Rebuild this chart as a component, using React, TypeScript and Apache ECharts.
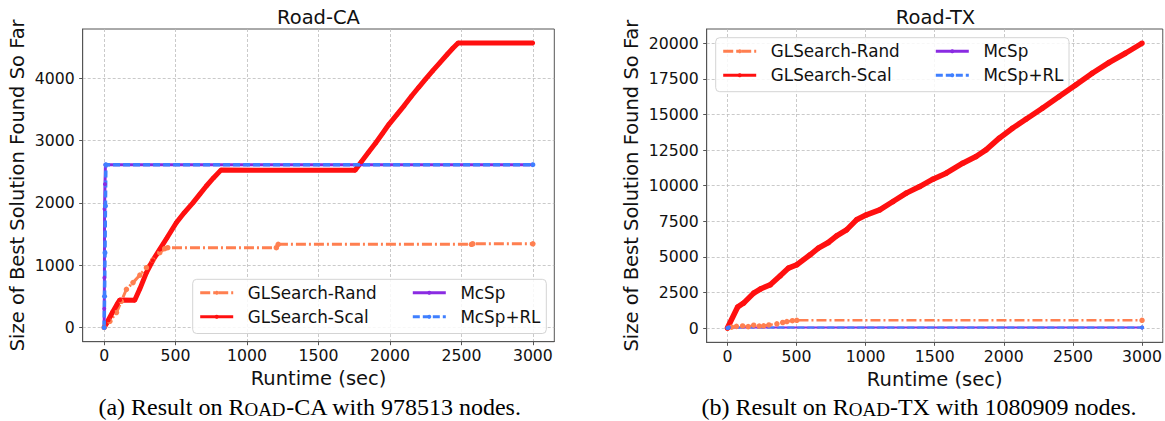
import React, { useEffect, useRef } from 'react';
import * as echarts from 'echarts';

// ---- tick labels ----
const xTicks = [0, 500, 1000, 1500, 2000, 2500, 3000];
const yTicksCA = [0, 1000, 2000, 3000, 4000];
const yTicksTX = [0, 2500, 5000, 7500, 10000, 12500, 15000, 17500, 20000];

const seriesNames = ['GLSearch-Rand', 'GLSearch-Scal', 'McSp', 'McSp+RL'];

// ---- Road-CA data: [runtime sec, size] ----
const caRand: [number, number][] = [
  [0, 0], [40, 100], [86, 240], [120, 420], [156, 613], [202, 720], [250, 840], [296, 960],
  [340, 1080], [389, 1200], [424, 1265], [445, 1280], [1205, 1280], [1218, 1335], [2570, 1335],
  [2580, 1342], [3000, 1342],
];
const caScal: [number, number][] = [
  [0, 0], [30, 120], [60, 250], [90, 370], [110, 442], [214, 437], [250, 620], [296, 880],
  [340, 1075], [389, 1253], [440, 1440], [505, 1680], [560, 1840], [621, 2000], [670, 2140],
  [714, 2266], [765, 2400], [817, 2525], [1756, 2522], [1800, 2660], [1850, 2810], [1900, 2960],
  [1950, 3120], [1993, 3260], [2050, 3420], [2100, 3560], [2150, 3710], [2200, 3850],
  [2249, 3984], [2300, 4120], [2350, 4250], [2400, 4380], [2440, 4480], [2477, 4565], [3000, 4565],
];
const caMcsp: [number, number][] = [
  [0, 0], [1, 300], [2, 800], [3, 1900], [6, 2300], [9, 2610], [3000, 2610],
];
const caMcspRl: [number, number][] = [
  [0, 0], [3, 500], [6, 1200], [9, 1950], [12, 2612], [3000, 2612],
];

// ---- Road-TX data ----
const txRand: [number, number][] = [
  [0, 0], [30, 60], [65, 120], [110, 150], [150, 100], [190, 200], [230, 140], [262, 160],
  [300, 220], [358, 300], [400, 390], [430, 460], [470, 520], [502, 545], [3000, 545],
];
const txScal: [number, number][] = [
  [0, 0], [74, 1474], [117, 1754], [190, 2456], [238, 2737], [310, 3039], [382, 3670],
  [442, 4210], [502, 4442], [598, 5144], [658, 5614], [730, 6007], [790, 6477], [862, 6898],
  [934, 7600], [1006, 7951], [1102, 8302], [1198, 8885], [1294, 9474], [1391, 9937],
  [1487, 10456], [1583, 10877], [1703, 11579], [1799, 12042], [1871, 12512], [1967, 13333],
  [2063, 14035], [2160, 14667], [2279, 15439], [2400, 16253], [2520, 17074], [2640, 17895],
  [2760, 18638], [2880, 19298], [3000, 20000],
];
const txMcsp: [number, number][] = [[0, 0], [10, 40], [3000, 40]];
const txMcspRl: [number, number][] = [[0, 0], [10, 45], [3000, 45]];

const FONT = 'DejaVu Sans';
const COLORS = { rand: '#ff7f50', scal: '#ff1010', mcsp: '#8a2be2', rl: '#3f7fff' };
const TXT = '#111111';

function makeXAxis(gridIndex: number) {
  return {
    type: 'value', gridIndex, min: -150, max: 3150,
    name: 'Runtime (sec)', nameLocation: 'middle', nameGap: 25,
    nameTextStyle: { fontFamily: FONT, fontSize: 19.5, color: TXT },
    axisLine: { show: true, onZero: false, lineStyle: { color: '#555', width: 1 } },
    axisTick: { show: true, length: 3.5, customValues: xTicks, lineStyle: { color: '#555' } },
    axisLabel: { customValues: xTicks, margin: 6, formatter: (v: number) => String(v), fontFamily: FONT, fontSize: 15.7, color: TXT },
    splitLine: { show: true, lineStyle: { color: '#bdbdbd', type: [3, 2], width: 0.8 } },
  };
}

function makeYAxis(gridIndex: number, min: number, max: number, ticks: number[], gap: number) {
  return {
    type: 'value', gridIndex, min, max,
    name: 'Size of Best Solution Found So Far', nameLocation: 'middle', nameGap: gap, nameRotate: 90,
    nameTextStyle: { fontFamily: FONT, fontSize: 19.5, color: TXT },
    axisLine: { show: true, onZero: false, lineStyle: { color: '#555', width: 1 } },
    axisTick: { show: true, length: 3.5, customValues: ticks, lineStyle: { color: '#555' } },
    axisLabel: { customValues: ticks, margin: 8, formatter: (v: number) => String(v), fontFamily: FONT, fontSize: 15.7, color: TXT },
    splitLine: { show: true, lineStyle: { color: '#bdbdbd', type: [3, 2], width: 0.8 } },
  };
}

function line(name: string, data: [number, number][], idx: number, color: string, type: any, width: number, symbolSize: number) {
  return {
    type: 'line', name, data, xAxisIndex: idx, yAxisIndex: idx,
    symbol: 'circle', symbolSize, showSymbol: true, showAllSymbol: true,
    lineStyle: { color, width, type }, itemStyle: { color },
    emphasis: { disabled: true },
  };
}

function legendsFor(boxLeft: number, boxTop: number) {
  return seriesNames.map((name, i) => {
    const col = i < 2 ? 0 : 1;
    const row = i % 2;
    return {
      data: [name],
      left: boxLeft + (col === 0 ? 6 : 218.6),
      top: boxTop + (row === 0 ? 14 : 38) - 9,
      itemWidth: 33, itemHeight: 5, padding: 0, selectedMode: false,
      lineStyle: { width: 3 },
      textStyle: { fontFamily: FONT, fontSize: 16.8, color: TXT, padding: [0, 0, 0, 9.6] },
    };
  });
}

function caption(x: number, pre: string, sc: string, post: string) {
  const base = { fontFamily: 'Liberation Serif', fontSize: 24, fill: '#000', verticalAlign: 'bottom' };
  return {
    type: 'text', x, y: 407, z: 10,
    style: {
      text: `{n|${pre}}{s|${sc}}{n|${post}}`,
      rich: { n: base, s: { ...base, fontSize: 19 } },
      align: 'center', verticalAlign: 'middle',
    },
  };
}

export default function App() {
  const ref = useRef<HTMLDivElement>(null);
  useEffect(() => {
    if (!ref.current) return;
    const chart = echarts.init(ref.current, undefined, { renderer: 'svg' });
    const leftLegend = { x: 192.7, y: 279.3, w: 353.6, h: 54.2 };
    const rightLegend = { x: 715.7, y: 37.7, w: 353.3, h: 54 };
    chart.setOption({
      animation: false,
      backgroundColor: '#ffffff',
      title: [
        { text: 'Road-CA', left: 318.5, top: 7, textAlign: 'center', padding: 0, textStyle: { fontFamily: FONT, fontSize: 19.5, fontWeight: 'normal', color: TXT } },
        { text: 'Road-TX', left: 935.5, top: 7, textAlign: 'center', padding: 0, textStyle: { fontFamily: FONT, fontSize: 19.5, fontWeight: 'normal', color: TXT } },
      ],
      grid: [
        { left: 82.7, top: 29, width: 471.6, height: 312.7, show: true, borderColor: '#555', borderWidth: 1, containLabel: false },
        { left: 706.7, top: 29, width: 457.6, height: 313.3, show: true, borderColor: '#555', borderWidth: 1, containLabel: false },
      ],
      xAxis: [makeXAxis(0), makeXAxis(1)],
      yAxis: [
        makeYAxis(0, -228, 4789, yTicksCA, 55),
        makeYAxis(1, -1000, 21000, yTicksTX, 65),
      ],
      legend: [...legendsFor(leftLegend.x, leftLegend.y), ...legendsFor(rightLegend.x, rightLegend.y)],
      graphic: [
        { type: 'rect', z: 3, shape: { x: leftLegend.x, y: leftLegend.y, width: leftLegend.w, height: leftLegend.h, r: 4 }, style: { fill: 'rgba(255,255,255,0.85)', stroke: '#d4d4d4', lineWidth: 1 } },
        { type: 'rect', z: 3, shape: { x: rightLegend.x, y: rightLegend.y, width: rightLegend.w, height: rightLegend.h, r: 4 }, style: { fill: 'rgba(255,255,255,0.85)', stroke: '#d4d4d4', lineWidth: 1 } },
        caption(310, '(a) Result on R', 'OAD', '-CA with 978513 nodes.'),
        caption(919, '(b) Result on R', 'OAD', '-TX with 1080909 nodes.'),
      ],
      series: [
        line('GLSearch-Rand', caRand, 0, COLORS.rand, [10, 3, 2, 3], 3, 5.5),
        line('GLSearch-Scal', caScal, 0, COLORS.scal, 'solid', 5, 4.5),
        line('McSp', caMcsp, 0, COLORS.mcsp, 'solid', 3, 4),
        line('McSp+RL', caMcspRl, 0, COLORS.rl, [7, 3], 3.5, 5),
        line('GLSearch-Rand', txRand, 1, COLORS.rand, [10, 3, 2, 3], 2.5, 5.5),
        line('GLSearch-Scal', txScal, 1, COLORS.scal, 'solid', 5.5, 5.5),
        line('McSp', txMcsp, 1, COLORS.mcsp, 'solid', 2, 4),
        line('McSp+RL', txMcspRl, 1, COLORS.rl, [7, 3], 2, 4),
      ],
    });
    return () => chart.dispose();
  }, []);
  return <div ref={ref} style={{ position: 'absolute', left: 0, top: 0, width: 1165, height: 421 }} />;
}
